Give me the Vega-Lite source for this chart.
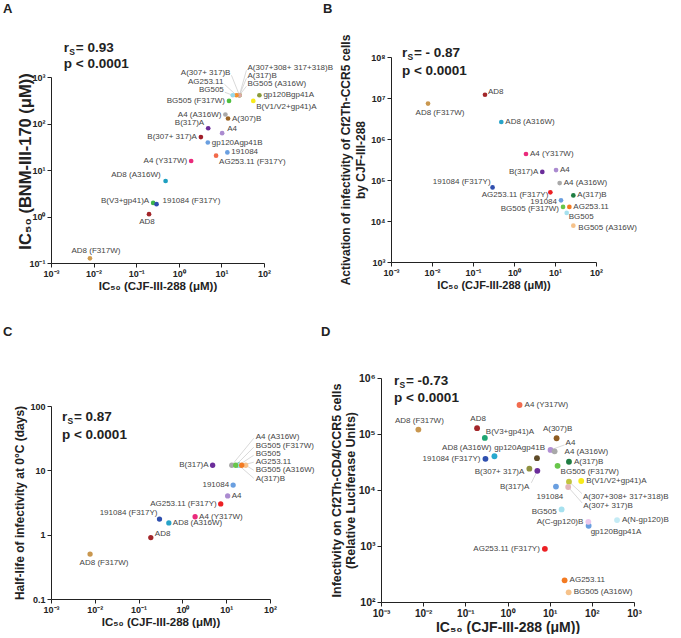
{
  "$schema": "https://vega.github.io/schema/vega-lite/v6.json",
  "padding": {"left": 2, "top": 2, "right": 0, "bottom": 0},
  "background": "white",
  "config": {
    "view": {"stroke": null},
    "axis": {"grid": false, "domainColor": "#222", "tickColor": "#222", "labelColor": "#222", "titleColor": "#222", "labelFont": "Liberation Sans", "titleFont": "Liberation Sans", "labelFontWeight": "bold", "titleFontWeight": "bold", "labelFontSize": 9, "tickSize": 4, "labelPadding": 2, "labelOverlap": false, "labelFlush": false, "labelBound": false},
    "text": {"font": "Liberation Sans", "fontSize": 8, "color": "#444", "baseline": "middle"},
    "circle": {"opacity": 1, "size": 24},
    "rule": {"color": "#c8c8c8", "strokeWidth": 0.7}
  },
  "datasets": {
    "A": [
      {"strain": "AD8 (F317W)", "x": 0.0082, "y": 0.126},
      {"strain": "AD8", "x": 0.2, "y": 1.12},
      {"strain": "B(V3+gp41)A", "x": 0.25, "y": 1.96},
      {"strain": "191084 (F317Y)", "x": 0.3, "y": 1.84},
      {"strain": "AD8 (A316W)", "x": 0.49, "y": 5.8},
      {"strain": "A4 (Y317W)", "x": 1.95, "y": 15.6},
      {"strain": "AG253.11 (F317Y)", "x": 7.5, "y": 20.3},
      {"strain": "191084", "x": 13.8, "y": 23.9},
      {"strain": "gp120Agp41B", "x": 4.8, "y": 39},
      {"strain": "B(307+ 317)A", "x": 3.3, "y": 51},
      {"strain": "A4", "x": 10.4, "y": 62},
      {"strain": "B(317)A", "x": 4.9, "y": 79},
      {"strain": "A(307)B", "x": 14.3, "y": 128},
      {"strain": "A4 (A316W)", "x": 12.4, "y": 156},
      {"strain": "BG505 (F317W)", "x": 15.1, "y": 306},
      {"strain": "A(307+308+ 317+318)B", "x": 26.5, "y": 405},
      {"strain": "A(317)B", "x": 26.5, "y": 405},
      {"strain": "BG505 (A316W)", "x": 26.5, "y": 405},
      {"strain": "A(307+ 317)B", "x": 26.5, "y": 405},
      {"strain": "AG253.11", "x": 22.5, "y": 405},
      {"strain": "BG505", "x": 18.5, "y": 405},
      {"strain": "gp120Bgp41A", "x": 78, "y": 405},
      {"strain": "B(V1/V2+gp41)A", "x": 56, "y": 306}
    ],
    "B": [
      {"strain": "AD8 (F317W)", "x": 0.008, "y": 7300000},
      {"strain": "AD8", "x": 0.196, "y": 12000000},
      {"strain": "AD8 (A316W)", "x": 0.49, "y": 2600000},
      {"strain": "A4 (Y317W)", "x": 1.96, "y": 430000},
      {"strain": "B(317)A", "x": 4.9, "y": 157000},
      {"strain": "A4", "x": 10.6, "y": 175000},
      {"strain": "191084 (F317Y)", "x": 0.3, "y": 66000},
      {"strain": "A4 (A316W)", "x": 13, "y": 84000},
      {"strain": "AG253.11 (F317Y)", "x": 7.7, "y": 50000},
      {"strain": "A(317)B", "x": 28, "y": 42000},
      {"strain": "191084", "x": 14, "y": 32000},
      {"strain": "AG253.11", "x": 22.4, "y": 22000},
      {"strain": "BG505 (F317W)", "x": 15.7, "y": 22000},
      {"strain": "BG505", "x": 19.3, "y": 15700},
      {"strain": "BG505 (A316W)", "x": 28, "y": 7700}
    ],
    "C": [
      {"strain": "AD8 (F317W)", "x": 0.0078, "y": 0.5},
      {"strain": "AD8", "x": 0.19, "y": 0.9},
      {"strain": "AD8 (A316W)", "x": 0.49, "y": 1.52},
      {"strain": "191084 (F317Y)", "x": 0.3, "y": 1.75},
      {"strain": "A4 (Y317W)", "x": 1.95, "y": 1.9},
      {"strain": "AG253.11 (F317Y)", "x": 7.5, "y": 3.0},
      {"strain": "A4", "x": 10.8, "y": 4.0},
      {"strain": "191084", "x": 14.4, "y": 5.9},
      {"strain": "B(317)A", "x": 4.9, "y": 12},
      {"strain": "A(317)B", "x": 19.3, "y": 12},
      {"strain": "BG505", "x": 19.3, "y": 12},
      {"strain": "A4 (A316W)", "x": 13.4, "y": 12},
      {"strain": "BG505 (F317W)", "x": 16.5, "y": 12},
      {"strain": "BG505 (A316W)", "x": 27.9, "y": 12},
      {"strain": "AG253.11", "x": 22.6, "y": 12}
    ],
    "D": [
      {"strain": "AD8 (F317W)", "x": 0.0077, "y": 120000},
      {"strain": "AD8", "x": 0.19, "y": 127000},
      {"strain": "B(V3+gp41)A", "x": 0.29, "y": 85000},
      {"strain": "191084 (F317Y)", "x": 0.3, "y": 36000},
      {"strain": "AD8 (A316W)", "x": 0.49, "y": 40000},
      {"strain": "A4 (Y317W)", "x": 1.93, "y": 330000},
      {"strain": "gp120Agp41B", "x": 5.0, "y": 37000},
      {"strain": "B(307+ 317)A", "x": 3.3, "y": 24000},
      {"strain": "B(317)A", "x": 5.1, "y": 22000},
      {"strain": "A(307)B", "x": 14.6, "y": 84000},
      {"strain": "A4", "x": 10.5, "y": 52000},
      {"strain": "A4 (A316W)", "x": 13.1, "y": 49000},
      {"strain": "A(317)B", "x": 28.7, "y": 32000},
      {"strain": "BG505 (F317W)", "x": 15.4, "y": 27000},
      {"strain": "B(V1/V2+gp41)A", "x": 56, "y": 14500},
      {"strain": "A(307+308+ 317+318)B", "x": 28.7, "y": 14100},
      {"strain": "A(307+ 317)B", "x": 27.5, "y": 11300},
      {"strain": "191084", "x": 14.1, "y": 11500},
      {"strain": "BG505", "x": 19.2, "y": 4500},
      {"strain": "gp120Bgp41A", "x": 84, "y": 2300},
      {"strain": "A(C-gp120)B", "x": 82.6, "y": 2700},
      {"strain": "A(N-gp120)B", "x": 396, "y": 2900},
      {"strain": "AG253.11 (F317Y)", "x": 7.7, "y": 890},
      {"strain": "AG253.11", "x": 22.6, "y": 244},
      {"strain": "BG505 (A316W)", "x": 28.2, "y": 149}
    ],
    "notes": [
      {"panel": "A", "letter": "A", "r": "r", "s": "S", "v": "= 0.93", "p": "p < 0.0001"},
      {"panel": "B", "letter": "B", "r": "r", "s": "S", "v": "= - 0.87", "p": "p < 0.0001"},
      {"panel": "C", "letter": "C", "r": "r", "s": "S", "v": "= 0.87", "p": "p < 0.0001"},
      {"panel": "D", "letter": "D", "r": "r", "s": "S", "v": "= -0.73", "p": "p < 0.0001"}
    ]
  },
  "spacing": 34,
  "resolve": {"scale": {"color": "independent"}},
  "vconcat": [
    {
      "bounds": "flush",
      "spacing": 127,
      "resolve": {"scale": {"color": "independent"}},
      "hconcat": [
        {
          "width": 213,
          "height": 206,
          "layer": [
            {
              "data": {"name": "A"},
              "encoding": {
                "x": {"field": "x", "type": "quantitative", "scale": {"type": "log", "domain": [0.001, 100], "nice": false}, "axis": {"values": [0.001, 0.01, 0.1, 1, 10, 100], "labelExpr": "'10' + ['⁻³','⁻²','⁻¹','⁰','¹','²','³','⁴','⁵','⁶','⁷','⁸'][round(log(datum.value)/LN10)+3]", "title": "IC₅₀ (CJF-III-288 (μM))", "titleFontSize": 11.5, "titlePadding": 2}},
                "y": {"field": "y", "type": "quantitative", "scale": {"type": "log", "domain": [0.1, 1000], "nice": false, "range": [206, 20]}, "axis": {"values": [0.1, 1, 10, 100, 1000], "labelExpr": "'10' + ['⁻³','⁻²','⁻¹','⁰','¹','²','³','⁴','⁵','⁶','⁷','⁸'][round(log(datum.value)/LN10)+3]", "title": "IC₅₀ (BNM-III-170 (μM))", "titleFontSize": 16.5, "titleX": -18, "titleY": 104}}
              },
              "layer": [
                {"transform": [{"filter": {"field": "strain", "equal": "BG505"}}], "mark": {"type": "rule", "x2Offset": -8, "y2Offset": -3}, "encoding": {"x2": {"field": "x"}, "y2": {"field": "y"}}},
                {"transform": [{"filter": {"field": "strain", "equal": "AG253.11"}}], "mark": {"type": "rule", "x2Offset": -12, "y2Offset": -11}, "encoding": {"x2": {"field": "x"}, "y2": {"field": "y"}}},
                {"transform": [{"filter": {"field": "strain", "equal": "A(307+ 317)B"}}], "mark": {"type": "rule", "x2Offset": -8, "y2Offset": -20}, "encoding": {"x2": {"field": "x"}, "y2": {"field": "y"}}},
                {"transform": [{"filter": {"field": "strain", "equal": "BG505 (A316W)"}}], "mark": {"type": "rule", "x2Offset": 7, "y2Offset": -9}, "encoding": {"x2": {"field": "x"}, "y2": {"field": "y"}}},
                {"transform": [{"filter": {"field": "strain", "equal": "A(317)B"}}], "mark": {"type": "rule", "x2Offset": 7, "y2Offset": -17}, "encoding": {"x2": {"field": "x"}, "y2": {"field": "y"}}},
                {"transform": [{"filter": {"field": "strain", "equal": "A(307+308+ 317+318)B"}}], "mark": {"type": "rule", "x2Offset": 7, "y2Offset": -25}, "encoding": {"x2": {"field": "x"}, "y2": {"field": "y"}}},
                {
                  "mark": {"type": "circle", "size": 22},
                  "encoding": {"color": {"field": "strain", "type": "nominal", "legend": null, "scale": {
                    "domain": ["AD8 (F317W)", "AD8", "B(V3+gp41)A", "191084 (F317Y)", "AD8 (A316W)", "A4 (Y317W)", "AG253.11 (F317Y)", "191084", "gp120Agp41B", "B(307+ 317)A", "A4", "B(317)A", "A(307)B", "A4 (A316W)", "BG505 (F317W)", "A(307+308+ 317+318)B", "A(317)B", "BG505 (A316W)", "A(307+ 317)B", "AG253.11", "BG505", "gp120Bgp41A", "B(V1/V2+gp41)A"],
                    "range": ["#d09c50", "#a3262a", "#3db54a", "#2f4fae", "#1d9fc0", "#ea2a7b", "#f26a4a", "#6a9fe0", "#6a9fe0", "#a01d28", "#ab8bd0", "#6b2d9a", "#9b6424", "#a9a9a9", "#4ebf40", "#c2c43e", "#1f7d42", "#f6c28a", "#dba8a8", "#f5902a", "#98d8ea", "#8a9a3a", "#f7ea1a"]}}}
                },
                {"transform": [{"filter": {"field": "strain", "oneOf": ["191084", "A(307)B", "gp120Agp41B", "gp120Bgp41A"]}}], "mark": {"type": "text", "align": "left", "dx": 4}, "encoding": {"text": {"field": "strain"}}},
                {"transform": [{"filter": {"field": "strain", "equal": "A4"}}], "mark": {"type": "text", "align": "left", "dx": 5, "dy": -4}, "encoding": {"text": {"field": "strain"}}},
                {"transform": [{"filter": {"field": "strain", "equal": "191084 (F317Y)"}}], "mark": {"type": "text", "align": "left", "dx": 6, "dy": -3}, "encoding": {"text": {"field": "strain"}}},
                {"transform": [{"filter": {"field": "strain", "oneOf": ["AG253.11 (F317Y)", "B(V1/V2+gp41)A"]}}], "mark": {"type": "text", "align": "left", "dx": 3, "dy": 6}, "encoding": {"text": {"field": "strain"}}},
                {"transform": [{"filter": {"field": "strain", "oneOf": ["A4 (Y317W)", "B(307+ 317)A", "A4 (A316W)", "BG505 (F317W)"]}}], "mark": {"type": "text", "align": "right", "dx": -4}, "encoding": {"text": {"field": "strain"}}},
                {"transform": [{"filter": {"field": "strain", "equal": "B(V3+gp41)A"}}], "mark": {"type": "text", "align": "right", "dx": -4, "dy": -2}, "encoding": {"text": {"field": "strain"}}},
                {"transform": [{"filter": {"field": "strain", "equal": "AD8 (A316W)"}}], "mark": {"type": "text", "align": "right", "dx": -5, "dy": -6}, "encoding": {"text": {"field": "strain"}}},
                {"transform": [{"filter": {"field": "strain", "equal": "B(317)A"}}], "mark": {"type": "text", "align": "right", "dx": -4, "dy": -5}, "encoding": {"text": {"field": "strain"}}},
                {"transform": [{"filter": {"field": "strain", "equal": "AD8"}}], "mark": {"type": "text", "align": "center", "dx": -2, "dy": 8}, "encoding": {"text": {"field": "strain"}}},
                {"transform": [{"filter": {"field": "strain", "equal": "AD8 (F317W)"}}], "mark": {"type": "text", "align": "center", "dx": 6, "dy": -7}, "encoding": {"text": {"field": "strain"}}},
                {"transform": [{"filter": {"field": "strain", "equal": "BG505"}}], "mark": {"type": "text", "align": "right", "dx": -9, "dy": -5}, "encoding": {"text": {"field": "strain"}}},
                {"transform": [{"filter": {"field": "strain", "equal": "AG253.11"}}], "mark": {"type": "text", "align": "right", "dx": -13, "dy": -13}, "encoding": {"text": {"field": "strain"}}},
                {"transform": [{"filter": {"field": "strain", "equal": "A(307+ 317)B"}}], "mark": {"type": "text", "align": "right", "dx": -9, "dy": -22}, "encoding": {"text": {"field": "strain"}}},
                {"transform": [{"filter": {"field": "strain", "equal": "BG505 (A316W)"}}], "mark": {"type": "text", "align": "left", "dx": 8, "dy": -11}, "encoding": {"text": {"field": "strain"}}},
                {"transform": [{"filter": {"field": "strain", "equal": "A(317)B"}}], "mark": {"type": "text", "align": "left", "dx": 8, "dy": -19}, "encoding": {"text": {"field": "strain"}}},
                {"transform": [{"filter": {"field": "strain", "equal": "A(307+308+ 317+318)B"}}], "mark": {"type": "text", "align": "left", "dx": 8, "dy": -27}, "encoding": {"text": {"field": "strain"}}}
              ]
            },
            {
              "data": {"name": "notes"},
              "transform": [{"filter": {"field": "panel", "equal": "A"}}],
              "layer": [
                {"mark": {"type": "text", "align": "left", "fontSize": 13, "fontWeight": "bold", "color": "#222"}, "encoding": {"x": {"datum": 0.000075, "type": "quantitative"}, "y": {"datum": 29000, "type": "quantitative"}, "text": {"field": "letter"}}},
                {"mark": {"type": "text", "align": "left", "fontSize": 13.5, "fontWeight": "bold", "color": "#222"}, "encoding": {"x": {"datum": 0.002, "type": "quantitative"}, "y": {"datum": 4200, "type": "quantitative"}, "text": {"field": "r"}}},
                {"mark": {"type": "text", "align": "left", "dx": 5.5, "dy": 4, "fontSize": 8.5, "fontWeight": "bold", "color": "#222"}, "encoding": {"x": {"datum": 0.002, "type": "quantitative"}, "y": {"datum": 4200, "type": "quantitative"}, "text": {"field": "s"}}},
                {"mark": {"type": "text", "align": "left", "dx": 12, "fontSize": 13.5, "fontWeight": "bold", "color": "#222"}, "encoding": {"x": {"datum": 0.002, "type": "quantitative"}, "y": {"datum": 4200, "type": "quantitative"}, "text": {"field": "v"}}},
                {"mark": {"type": "text", "align": "left", "dy": 16, "fontSize": 13.5, "fontWeight": "bold", "color": "#222"}, "encoding": {"x": {"datum": 0.002, "type": "quantitative"}, "y": {"datum": 4200, "type": "quantitative"}, "text": {"field": "p"}}}
              ]
            }
          ]
        },
        {
          "width": 205,
          "height": 205,
          "layer": [
            {
              "data": {"name": "B"},
              "encoding": {
                "x": {"field": "x", "type": "quantitative", "scale": {"type": "log", "domain": [0.001, 100], "nice": false}, "axis": {"values": [0.001, 0.01, 0.1, 1, 10, 100], "labelExpr": "'10' + ['⁻³','⁻²','⁻¹','⁰','¹','²','³','⁴','⁵','⁶','⁷','⁸'][round(log(datum.value)/LN10)+3]", "title": "IC₅₀ (CJF-III-288 (μM))", "titleFontSize": 11, "titlePadding": 2}},
                "y": {"field": "y", "type": "quantitative", "scale": {"type": "log", "domain": [1000, 100000000], "nice": false}, "axis": {"values": [1000, 10000, 100000, 1000000, 10000000, 100000000], "labelExpr": "'10' + ['⁻³','⁻²','⁻¹','⁰','¹','²','³','⁴','⁵','⁶','⁷','⁸'][round(log(datum.value)/LN10)+3]", "title": ["Activation of infectivity of Cf2Th-CCR5 cells", "by CJF-III-288"], "titleFontSize": 12, "titleLineHeight": 15, "titlePadding": 3}}
              },
              "layer": [
                {
                  "mark": {"type": "circle", "size": 22},
                  "encoding": {"color": {"field": "strain", "type": "nominal", "legend": null, "scale": {
                    "domain": ["AD8 (F317W)", "AD8", "AD8 (A316W)", "A4 (Y317W)", "B(317)A", "A4", "191084 (F317Y)", "A4 (A316W)", "AG253.11 (F317Y)", "A(317)B", "191084", "AG253.11", "BG505 (F317W)", "BG505", "BG505 (A316W)"],
                    "range": ["#c9974f", "#a3262a", "#27a3c8", "#ea2a7b", "#6b2d9a", "#ab8bd0", "#2f4fae", "#a9a9a9", "#ec2024", "#1f7d42", "#6a9fe0", "#f37a22", "#68c64a", "#a6e1ef", "#f6c28a"]}}}
                },
                {"transform": [{"filter": {"field": "strain", "oneOf": ["AD8 (A316W)", "A4 (Y317W)", "A4", "AG253.11", "A(317)B", "A4 (A316W)"]}}], "mark": {"type": "text", "align": "left", "dx": 4}, "encoding": {"text": {"field": "strain"}}},
                {"transform": [{"filter": {"field": "strain", "equal": "AD8"}}], "mark": {"type": "text", "align": "left", "dx": 3, "dy": -3}, "encoding": {"text": {"field": "strain"}}},
                {"transform": [{"filter": {"field": "strain", "equal": "BG505"}}], "mark": {"type": "text", "align": "left", "dx": 2, "dy": 4}, "encoding": {"text": {"field": "strain"}}},
                {"transform": [{"filter": {"field": "strain", "equal": "BG505 (A316W)"}}], "mark": {"type": "text", "align": "left", "dx": 5, "dy": 2}, "encoding": {"text": {"field": "strain"}}},
                {"transform": [{"filter": {"field": "strain", "equal": "B(317)A"}}], "mark": {"type": "text", "align": "right", "dx": -4}, "encoding": {"text": {"field": "strain"}}},
                {"transform": [{"filter": {"field": "strain", "oneOf": ["BG505 (F317W)", "191084"]}}], "mark": {"type": "text", "align": "right", "dx": -4, "dy": 2}, "encoding": {"text": {"field": "strain"}}},
                {"transform": [{"filter": {"field": "strain", "equal": "191084 (F317Y)"}}], "mark": {"type": "text", "align": "right", "dx": -2, "dy": -5}, "encoding": {"text": {"field": "strain"}}},
                {"transform": [{"filter": {"field": "strain", "equal": "AG253.11 (F317Y)"}}], "mark": {"type": "text", "align": "right", "dx": -2, "dy": 3}, "encoding": {"text": {"field": "strain"}}},
                {"transform": [{"filter": {"field": "strain", "equal": "AD8 (F317W)"}}], "mark": {"type": "text", "align": "center", "dx": 12, "dy": 9}, "encoding": {"text": {"field": "strain"}}}
              ]
            },
            {
              "data": {"name": "notes"},
              "transform": [{"filter": {"field": "panel", "equal": "B"}}],
              "layer": [
                {"mark": {"type": "text", "align": "left", "fontSize": 13, "fontWeight": "bold", "color": "#222"}, "encoding": {"x": {"datum": 0.0000219, "type": "quantitative"}, "y": {"datum": 1480000000, "type": "quantitative"}, "text": {"field": "letter"}}},
                {"mark": {"type": "text", "align": "left", "fontSize": 13.5, "fontWeight": "bold", "color": "#222"}, "encoding": {"x": {"datum": 0.00185, "type": "quantitative"}, "y": {"datum": 125000000, "type": "quantitative"}, "text": {"field": "r"}}},
                {"mark": {"type": "text", "align": "left", "dx": 5.5, "dy": 4, "fontSize": 8.5, "fontWeight": "bold", "color": "#222"}, "encoding": {"x": {"datum": 0.00185, "type": "quantitative"}, "y": {"datum": 125000000, "type": "quantitative"}, "text": {"field": "s"}}},
                {"mark": {"type": "text", "align": "left", "dx": 12, "fontSize": 13.5, "fontWeight": "bold", "color": "#222"}, "encoding": {"x": {"datum": 0.00185, "type": "quantitative"}, "y": {"datum": 125000000, "type": "quantitative"}, "text": {"field": "v"}}},
                {"mark": {"type": "text", "align": "left", "dy": 18, "fontSize": 13.5, "fontWeight": "bold", "color": "#222"}, "encoding": {"x": {"datum": 0.00185, "type": "quantitative"}, "y": {"datum": 125000000, "type": "quantitative"}, "text": {"field": "p"}}}
              ]
            }
          ]
        }
      ]
    },
    {
      "bounds": "flush",
      "spacing": 111,
      "resolve": {"scale": {"color": "independent"}},
      "hconcat": [
        {
          "width": 219,
          "height": 221,
          "layer": [
            {
              "data": {"name": "C"},
              "encoding": {
                "x": {"field": "x", "type": "quantitative", "scale": {"type": "log", "domain": [0.001, 100], "nice": false}, "axis": {"values": [0.001, 0.01, 0.1, 1, 10, 100], "labelExpr": "'10' + ['⁻³','⁻²','⁻¹','⁰','¹','²','³','⁴','⁵','⁶','⁷','⁸'][round(log(datum.value)/LN10)+3]", "title": "IC₅₀ (CJF-III-288 (μM))", "titleFontSize": 11.5, "titlePadding": 2}},
                "y": {"field": "y", "type": "quantitative", "scale": {"type": "log", "domain": [0.1, 100], "nice": false, "range": [221, 28]}, "axis": {"values": [0.1, 1, 10, 100], "labelExpr": "datum.value < 1 ? '0.1' : format(datum.value, 'd')", "title": "Half-life of infectivity at 0°C (days)", "titleFontSize": 12, "titlePadding": 3}}
              },
              "layer": [
                {"transform": [{"filter": {"field": "strain", "equal": "A4 (A316W)"}}], "mark": {"type": "rule", "x2Offset": 22, "y2Offset": -27}, "encoding": {"x2": {"field": "x"}, "y2": {"field": "y"}}},
                {"transform": [{"filter": {"field": "strain", "equal": "BG505 (F317W)"}}], "mark": {"type": "rule", "x2Offset": 18, "y2Offset": -18}, "encoding": {"x2": {"field": "x"}, "y2": {"field": "y"}}},
                {"transform": [{"filter": {"field": "strain", "equal": "BG505"}}], "mark": {"type": "rule", "x2Offset": 15, "y2Offset": -10}, "encoding": {"x2": {"field": "x"}, "y2": {"field": "y"}}},
                {"transform": [{"filter": {"field": "strain", "equal": "AG253.11"}}], "mark": {"type": "rule", "x2Offset": 12, "y2Offset": -3}, "encoding": {"x2": {"field": "x"}, "y2": {"field": "y"}}},
                {"transform": [{"filter": {"field": "strain", "equal": "BG505 (A316W)"}}], "mark": {"type": "rule", "x2Offset": 8, "y2Offset": 5}, "encoding": {"x2": {"field": "x"}, "y2": {"field": "y"}}},
                {"transform": [{"filter": {"field": "strain", "equal": "A(317)B"}}], "mark": {"type": "rule", "x2Offset": 15, "y2Offset": 13}, "encoding": {"x2": {"field": "x"}, "y2": {"field": "y"}}},
                {
                  "mark": {"type": "circle", "size": 28},
                  "encoding": {"color": {"field": "strain", "type": "nominal", "legend": null, "scale": {
                    "domain": ["AD8 (F317W)", "AD8", "AD8 (A316W)", "191084 (F317Y)", "A4 (Y317W)", "AG253.11 (F317Y)", "A4", "191084", "B(317)A", "A(317)B", "BG505", "A4 (A316W)", "BG505 (F317W)", "BG505 (A316W)", "AG253.11"],
                    "range": ["#c9974f", "#a3262a", "#27a3c8", "#2f4fae", "#ea2a7b", "#ec2024", "#ab8bd0", "#6a9fe0", "#6b2d9a", "#1f7d42", "#a6e1ef", "#a9a9a9", "#68c64a", "#f6c28a", "#f37a22"]}}}
                },
                {"transform": [{"filter": {"field": "strain", "oneOf": ["AD8 (A316W)", "A4 (Y317W)", "A4"]}}], "mark": {"type": "text", "align": "left", "dx": 4}, "encoding": {"text": {"field": "strain"}}},
                {"transform": [{"filter": {"field": "strain", "equal": "AD8"}}], "mark": {"type": "text", "align": "left", "dx": 4, "dy": -4}, "encoding": {"text": {"field": "strain"}}},
                {"transform": [{"filter": {"field": "strain", "oneOf": ["AG253.11 (F317Y)", "191084", "B(317)A"]}}], "mark": {"type": "text", "align": "right", "dx": -4}, "encoding": {"text": {"field": "strain"}}},
                {"transform": [{"filter": {"field": "strain", "equal": "191084 (F317Y)"}}], "mark": {"type": "text", "align": "right", "dx": -2, "dy": -6}, "encoding": {"text": {"field": "strain"}}},
                {"transform": [{"filter": {"field": "strain", "equal": "AD8 (F317W)"}}], "mark": {"type": "text", "align": "center", "dx": 14, "dy": 9}, "encoding": {"text": {"field": "strain"}}},
                {"transform": [{"filter": {"field": "strain", "equal": "A4 (A316W)"}}], "mark": {"type": "text", "align": "left", "dx": 24, "dy": -28}, "encoding": {"text": {"field": "strain"}}},
                {"transform": [{"filter": {"field": "strain", "equal": "BG505 (F317W)"}}], "mark": {"type": "text", "align": "left", "dx": 20, "dy": -19}, "encoding": {"text": {"field": "strain"}}},
                {"transform": [{"filter": {"field": "strain", "equal": "BG505"}}], "mark": {"type": "text", "align": "left", "dx": 17, "dy": -11}, "encoding": {"text": {"field": "strain"}}},
                {"transform": [{"filter": {"field": "strain", "equal": "AG253.11"}}], "mark": {"type": "text", "align": "left", "dx": 14, "dy": -3}, "encoding": {"text": {"field": "strain"}}},
                {"transform": [{"filter": {"field": "strain", "equal": "BG505 (A316W)"}}], "mark": {"type": "text", "align": "left", "dx": 10, "dy": 5}, "encoding": {"text": {"field": "strain"}}},
                {"transform": [{"filter": {"field": "strain", "equal": "A(317)B"}}], "mark": {"type": "text", "align": "left", "dx": 17, "dy": 14}, "encoding": {"text": {"field": "strain"}}}
              ]
            },
            {
              "data": {"name": "notes"},
              "transform": [{"filter": {"field": "panel", "equal": "C"}}],
              "layer": [
                {"mark": {"type": "text", "align": "left", "fontSize": 13, "fontWeight": "bold", "color": "#222"}, "encoding": {"x": {"datum": 0.00008, "type": "quantitative"}, "y": {"datum": 1413, "type": "quantitative"}, "text": {"field": "letter"}}},
                {"mark": {"type": "text", "align": "left", "fontSize": 13.5, "fontWeight": "bold", "color": "#222"}, "encoding": {"x": {"datum": 0.00178, "type": "quantitative"}, "y": {"datum": 67, "type": "quantitative"}, "text": {"field": "r"}}},
                {"mark": {"type": "text", "align": "left", "dx": 5.5, "dy": 4, "fontSize": 8.5, "fontWeight": "bold", "color": "#222"}, "encoding": {"x": {"datum": 0.00178, "type": "quantitative"}, "y": {"datum": 67, "type": "quantitative"}, "text": {"field": "s"}}},
                {"mark": {"type": "text", "align": "left", "dx": 12, "fontSize": 13.5, "fontWeight": "bold", "color": "#222"}, "encoding": {"x": {"datum": 0.00178, "type": "quantitative"}, "y": {"datum": 67, "type": "quantitative"}, "text": {"field": "v"}}},
                {"mark": {"type": "text", "align": "left", "dy": 18, "fontSize": 13.5, "fontWeight": "bold", "color": "#222"}, "encoding": {"x": {"datum": 0.00178, "type": "quantitative"}, "y": {"datum": 67, "type": "quantitative"}, "text": {"field": "p"}}}
              ]
            }
          ]
        },
        {
          "width": 253,
          "height": 224,
          "layer": [
            {
              "data": {"name": "D"},
              "encoding": {
                "x": {"field": "x", "type": "quantitative", "scale": {"type": "log", "domain": [0.001, 1000], "nice": false}, "axis": {"values": [0.001, 0.01, 0.1, 1, 10, 100, 1000], "labelFontSize": 10, "labelExpr": "'10' + ['⁻³','⁻²','⁻¹','⁰','¹','²','³','⁴','⁵','⁶','⁷','⁸'][round(log(datum.value)/LN10)+3]", "title": "IC₅₀ (CJF-III-288 (μM))", "titleFontSize": 14, "titlePadding": 2}},
                "y": {"field": "y", "type": "quantitative", "scale": {"type": "log", "domain": [100, 1000000], "nice": false}, "axis": {"values": [100, 1000, 10000, 100000, 1000000], "labelFontSize": 10.5, "labelExpr": "'10' + ['⁻³','⁻²','⁻¹','⁰','¹','²','³','⁴','⁵','⁶','⁷','⁸'][round(log(datum.value)/LN10)+3]", "title": ["Infectivity on Cf2Th-CD4/CCR5 cells", "(Relative Luciferase Units)"], "titleFontSize": 12.5, "titleLineHeight": 14, "titlePadding": 1}}
              },
              "layer": [
                {"transform": [{"filter": {"field": "strain", "equal": "A4"}}], "mark": {"type": "rule", "x2Offset": 14, "y2Offset": -5}, "encoding": {"x2": {"field": "x"}, "y2": {"field": "y"}}},
                {"transform": [{"filter": {"field": "strain", "equal": "B(317)A"}}], "mark": {"type": "rule", "x2Offset": -6, "y2Offset": 12}, "encoding": {"x2": {"field": "x"}, "y2": {"field": "y"}}},
                {"transform": [{"filter": {"field": "strain", "equal": "A(307+308+ 317+318)B"}}], "mark": {"type": "rule", "x2Offset": 13, "y2Offset": 12}, "encoding": {"x2": {"field": "x"}, "y2": {"field": "y"}}},
                {"transform": [{"filter": {"field": "strain", "equal": "A(307+ 317)B"}}], "mark": {"type": "rule", "x2Offset": 14, "y2Offset": 16}, "encoding": {"x2": {"field": "x"}, "y2": {"field": "y"}}},
                {
                  "mark": {"type": "circle", "size": 34},
                  "encoding": {"color": {"field": "strain", "type": "nominal", "legend": null, "scale": {
                    "domain": ["AD8 (F317W)", "AD8", "B(V3+gp41)A", "191084 (F317Y)", "AD8 (A316W)", "A4 (Y317W)", "gp120Agp41B", "B(307+ 317)A", "B(317)A", "A(307)B", "A4", "A4 (A316W)", "A(317)B", "BG505 (F317W)", "B(V1/V2+gp41)A", "A(307+308+ 317+318)B", "A(307+ 317)B", "191084", "BG505", "gp120Bgp41A", "A(C-gp120)B", "A(N-gp120)B", "AG253.11 (F317Y)", "AG253.11", "BG505 (A316W)"],
                    "range": ["#c9974f", "#a3262a", "#1fa672", "#2f4fae", "#27a9cf", "#f26c4f", "#5e4b28", "#8f9140", "#6b2d9a", "#8e5c22", "#b18fd3", "#a9a9a9", "#1f7d42", "#68c64a", "#f7ea1a", "#c2c43e", "#e2b5ba", "#6a9fe0", "#a6e1ef", "#6a9fe0", "#ecc8ec", "#c4ebf5", "#ec2024", "#f37a22", "#f6c28a"]}}}
                },
                {"transform": [{"filter": {"field": "strain", "oneOf": ["A4 (Y317W)", "A(317)B", "A(N-gp120)B", "AG253.11", "BG505 (A316W)", "B(V1/V2+gp41)A"]}}], "mark": {"type": "text", "align": "left", "dx": 5}, "encoding": {"text": {"field": "strain"}}},
                {"transform": [{"filter": {"field": "strain", "oneOf": ["191084 (F317Y)", "AG253.11 (F317Y)", "A(C-gp120)B"]}}], "mark": {"type": "text", "align": "right", "dx": -5}, "encoding": {"text": {"field": "strain"}}},
                {"transform": [{"filter": {"field": "strain", "oneOf": ["B(307+ 317)A", "BG505"]}}], "mark": {"type": "text", "align": "right", "dx": -5, "dy": 3}, "encoding": {"text": {"field": "strain"}}},
                {"transform": [{"filter": {"field": "strain", "oneOf": ["AD8", "AD8 (F317W)", "A(307)B"]}}], "mark": {"type": "text", "align": "center", "dx": 1, "dy": -9}, "encoding": {"text": {"field": "strain"}}},
                {"transform": [{"filter": {"field": "strain", "equal": "AD8 (A316W)"}}], "mark": {"type": "text", "align": "right", "dx": -3, "dy": -8}, "encoding": {"text": {"field": "strain"}}},
                {"transform": [{"filter": {"field": "strain", "equal": "B(V3+gp41)A"}}], "mark": {"type": "text", "align": "left", "dx": 1, "dy": -6}, "encoding": {"text": {"field": "strain"}}},
                {"transform": [{"filter": {"field": "strain", "equal": "gp120Agp41B"}}], "mark": {"type": "text", "align": "right", "dx": 8, "dy": -10}, "encoding": {"text": {"field": "strain"}}},
                {"transform": [{"filter": {"field": "strain", "equal": "A4"}}], "mark": {"type": "text", "align": "left", "dx": 15, "dy": -7}, "encoding": {"text": {"field": "strain"}}},
                {"transform": [{"filter": {"field": "strain", "equal": "A4 (A316W)"}}], "mark": {"type": "text", "align": "left", "dx": 10, "dy": 1}, "encoding": {"text": {"field": "strain"}}},
                {"transform": [{"filter": {"field": "strain", "equal": "BG505 (F317W)"}}], "mark": {"type": "text", "align": "left", "dx": 3, "dy": 6}, "encoding": {"text": {"field": "strain"}}},
                {"transform": [{"filter": {"field": "strain", "equal": "B(317)A"}}], "mark": {"type": "text", "align": "right", "dx": -8, "dy": 16}, "encoding": {"text": {"field": "strain"}}},
                {"transform": [{"filter": {"field": "strain", "equal": "A(307+308+ 317+318)B"}}], "mark": {"type": "text", "align": "left", "dx": 14, "dy": 15}, "encoding": {"text": {"field": "strain"}}},
                {"transform": [{"filter": {"field": "strain", "equal": "A(307+ 317)B"}}], "mark": {"type": "text", "align": "left", "dx": 15, "dy": 19}, "encoding": {"text": {"field": "strain"}}},
                {"transform": [{"filter": {"field": "strain", "equal": "191084"}}], "mark": {"type": "text", "align": "center", "dx": -6, "dy": 10}, "encoding": {"text": {"field": "strain"}}},
                {"transform": [{"filter": {"field": "strain", "equal": "gp120Bgp41A"}}], "mark": {"type": "text", "align": "left", "dx": 2, "dy": 6}, "encoding": {"text": {"field": "strain"}}}
              ]
            },
            {
              "data": {"name": "notes"},
              "transform": [{"filter": {"field": "panel", "equal": "D"}}],
              "layer": [
                {"mark": {"type": "text", "align": "left", "fontSize": 13, "fontWeight": "bold", "color": "#222"}, "encoding": {"x": {"datum": 0.0000378, "type": "quantitative"}, "y": {"datum": 6620000, "type": "quantitative"}, "text": {"field": "letter"}}},
                {"mark": {"type": "text", "align": "left", "fontSize": 13.5, "fontWeight": "bold", "color": "#222"}, "encoding": {"x": {"datum": 0.00203, "type": "quantitative"}, "y": {"datum": 880000, "type": "quantitative"}, "text": {"field": "r"}}},
                {"mark": {"type": "text", "align": "left", "dx": 5.5, "dy": 4, "fontSize": 8.5, "fontWeight": "bold", "color": "#222"}, "encoding": {"x": {"datum": 0.00203, "type": "quantitative"}, "y": {"datum": 880000, "type": "quantitative"}, "text": {"field": "s"}}},
                {"mark": {"type": "text", "align": "left", "dx": 12, "fontSize": 13.5, "fontWeight": "bold", "color": "#222"}, "encoding": {"x": {"datum": 0.00203, "type": "quantitative"}, "y": {"datum": 880000, "type": "quantitative"}, "text": {"field": "v"}}},
                {"mark": {"type": "text", "align": "left", "dy": 17, "fontSize": 13.5, "fontWeight": "bold", "color": "#222"}, "encoding": {"x": {"datum": 0.00203, "type": "quantitative"}, "y": {"datum": 880000, "type": "quantitative"}, "text": {"field": "p"}}}
              ]
            }
          ]
        }
      ]
    }
  ]
}
